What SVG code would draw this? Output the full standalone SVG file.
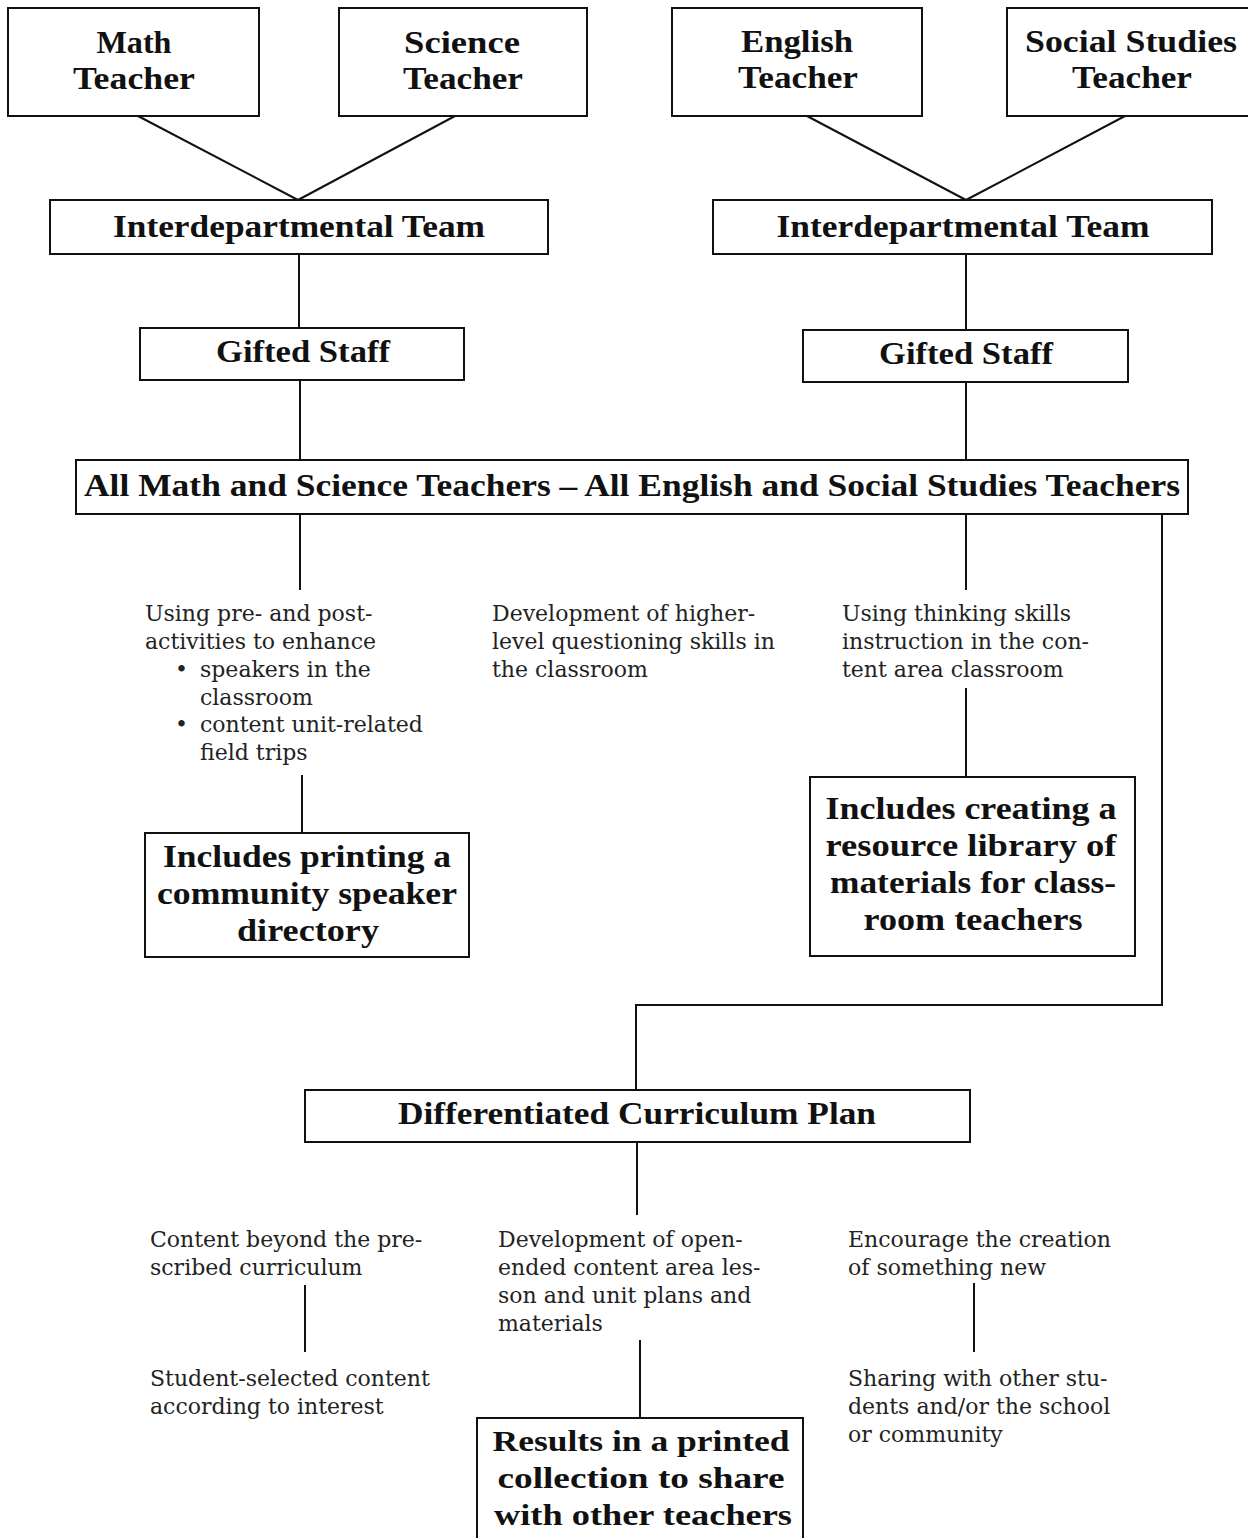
<svg xmlns="http://www.w3.org/2000/svg" width="1248" height="1538" viewBox="0 0 1248 1538">
<style>
.box{fill:#fff;stroke:#111;stroke-width:2}
.t{font-family:"Liberation Serif","Times New Roman",serif;font-weight:bold;fill:#111;text-anchor:middle}
.h{font-size:31px}
.b{font-size:32px}
.r{font-size:30px}
.n{font-family:"DejaVu Serif","Liberation Serif",serif;font-size:22px;fill:#222}
.c line,.c path{stroke:#111;stroke-width:2;fill:none}
</style>
<rect width="1248" height="1538" fill="#fff"/>
<g class="c" id="connectors">
<line x1="138" y1="116" x2="298" y2="200"/>
<line x1="455" y1="116" x2="298" y2="200"/>
<line x1="807" y1="116" x2="966" y2="200"/>
<line x1="1125" y1="116" x2="966" y2="200"/>
<line x1="299" y1="254" x2="299" y2="328"/>
<line x1="966" y1="254" x2="966" y2="330"/>
<line x1="300" y1="380" x2="300" y2="460"/>
<line x1="966" y1="382" x2="966" y2="460"/>
<line x1="300" y1="514" x2="300" y2="590"/>
<line x1="966" y1="514" x2="966" y2="590"/>
<path d="M1162 514 V1005 H636 V1090"/>
<line x1="302" y1="775" x2="302" y2="833"/>
<line x1="966" y1="688" x2="966" y2="777"/>
<line x1="637" y1="1142" x2="637" y2="1215"/>
<line x1="305" y1="1285" x2="305" y2="1352"/>
<line x1="640" y1="1340" x2="640" y2="1418"/>
<line x1="974" y1="1283" x2="974" y2="1352"/>
</g>
<g id="math">
<rect class="box" x="8" y="8" width="251" height="108"/>
<text class="t h" x="134" y="53" textLength="75" lengthAdjust="spacingAndGlyphs">Math</text>
<text class="t h" x="134" y="89" textLength="122" lengthAdjust="spacingAndGlyphs">Teacher</text>
</g>
<g id="science">
<rect class="box" x="339" y="8" width="248" height="108"/>
<text class="t h" x="462" y="53" textLength="116" lengthAdjust="spacingAndGlyphs">Science</text>
<text class="t h" x="463" y="89" textLength="120" lengthAdjust="spacingAndGlyphs">Teacher</text>
</g>
<g id="english">
<rect class="box" x="672" y="8" width="250" height="108"/>
<text class="t h" x="797" y="52" textLength="112" lengthAdjust="spacingAndGlyphs">English</text>
<text class="t h" x="798" y="88" textLength="120" lengthAdjust="spacingAndGlyphs">Teacher</text>
</g>
<g id="social">
<rect class="box" x="1007" y="8" width="250" height="108"/>
<text class="t h" x="1131" y="52" textLength="212" lengthAdjust="spacingAndGlyphs">Social Studies</text>
<text class="t h" x="1132" y="88" textLength="120" lengthAdjust="spacingAndGlyphs">Teacher</text>
</g>
<g id="team-left">
<rect class="box" x="50" y="200" width="498" height="54"/>
<text class="t h" x="299" y="237" textLength="372" lengthAdjust="spacingAndGlyphs">Interdepartmental Team</text>
</g>
<g id="team-right">
<rect class="box" x="713" y="200" width="499" height="54"/>
<text class="t h" x="963" y="237" textLength="373" lengthAdjust="spacingAndGlyphs">Interdepartmental Team</text>
</g>
<g id="gifted-left">
<rect class="box" x="140" y="328" width="324" height="52"/>
<text class="t h" x="303" y="362" textLength="174" lengthAdjust="spacingAndGlyphs">Gifted Staff</text>
</g>
<g id="gifted-right">
<rect class="box" x="803" y="330" width="325" height="52"/>
<text class="t h" x="966" y="364" textLength="174" lengthAdjust="spacingAndGlyphs">Gifted Staff</text>
</g>
<g id="all-teachers">
<rect class="box" x="76" y="460" width="1112" height="54"/>
<text class="t h" x="632" y="496" textLength="1096" lengthAdjust="spacingAndGlyphs">All Math and Science Teachers – All English and Social Studies Teachers</text>
</g>
<g id="pre-post">
<text class="n" x="145" y="621">Using pre- and post-</text>
<text class="n" x="145" y="649">activities to enhance</text>
<text class="n" x="175" y="677">•</text>
<text class="n" x="200" y="677">speakers in the</text>
<text class="n" x="200" y="705">classroom</text>
<text class="n" x="175" y="732">•</text>
<text class="n" x="200" y="732">content unit-related</text>
<text class="n" x="200" y="760">field trips</text>
</g>
<g id="questioning">
<text class="n" x="492" y="621">Development of higher-</text>
<text class="n" x="492" y="649">level questioning skills in</text>
<text class="n" x="492" y="677">the classroom</text>
</g>
<g id="thinking">
<text class="n" x="842" y="621">Using thinking skills</text>
<text class="n" x="842" y="649">instruction in the con-</text>
<text class="n" x="842" y="677">tent area classroom</text>
</g>
<g id="speaker-directory">
<rect class="box" x="145" y="833" width="324" height="124"/>
<text class="t b" x="307" y="867" textLength="288" lengthAdjust="spacingAndGlyphs">Includes printing a</text>
<text class="t b" x="307" y="904" textLength="300" lengthAdjust="spacingAndGlyphs">community speaker</text>
<text class="t b" x="308" y="941" textLength="142" lengthAdjust="spacingAndGlyphs">directory</text>
</g>
<g id="resource-library">
<rect class="box" x="810" y="777" width="325" height="179"/>
<text class="t b" x="971" y="819" textLength="291" lengthAdjust="spacingAndGlyphs">Includes creating a</text>
<text class="t b" x="971" y="856" textLength="291" lengthAdjust="spacingAndGlyphs">resource library of</text>
<text class="t b" x="973" y="893" textLength="286" lengthAdjust="spacingAndGlyphs">materials for class-</text>
<text class="t b" x="973" y="930" textLength="219" lengthAdjust="spacingAndGlyphs">room teachers</text>
</g>
<g id="curriculum-plan">
<rect class="box" x="305" y="1090" width="665" height="52"/>
<text class="t h" x="637" y="1124" textLength="478" lengthAdjust="spacingAndGlyphs">Differentiated Curriculum Plan</text>
</g>
<g id="content-beyond">
<text class="n" x="150" y="1247">Content beyond the pre-</text>
<text class="n" x="150" y="1275">scribed curriculum</text>
</g>
<g id="student-selected">
<text class="n" x="150" y="1386">Student-selected content</text>
<text class="n" x="150" y="1414">according to interest</text>
</g>
<g id="open-ended">
<text class="n" x="498" y="1247">Development of open-</text>
<text class="n" x="498" y="1275">ended content area les-</text>
<text class="n" x="498" y="1303">son and unit plans and</text>
<text class="n" x="498" y="1331">materials</text>
</g>
<g id="encourage">
<text class="n" x="848" y="1247">Encourage the creation</text>
<text class="n" x="848" y="1275">of something new</text>
</g>
<g id="sharing">
<text class="n" x="848" y="1386">Sharing with other stu-</text>
<text class="n" x="848" y="1414">dents and/or the school</text>
<text class="n" x="848" y="1442">or community</text>
</g>
<g id="printed-collection">
<rect class="box" x="477" y="1418" width="326" height="130"/>
<text class="t r" x="641" y="1451" textLength="297" lengthAdjust="spacingAndGlyphs">Results in a printed</text>
<text class="t r" x="641" y="1488" textLength="287" lengthAdjust="spacingAndGlyphs">collection to share</text>
<text class="t r" x="643" y="1525" textLength="298" lengthAdjust="spacingAndGlyphs">with other teachers</text>
</g>
</svg>
